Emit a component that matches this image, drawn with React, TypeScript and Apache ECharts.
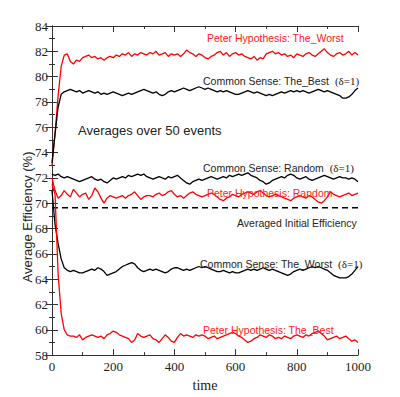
import React, { useEffect, useRef } from "react";
import * as echarts from "echarts";

// sampling grid of the time axis (every 10 time units, 0..1000)
const TIME_STEP = 10;

const peterWorst = [
  73.0, 75.5, 78.5, 80.8, 81.7, 81.8, 81.2, 81.0, 81.3, 81.2,
  81.5, 81.6, 81.7, 81.5, 81.6, 81.4, 81.5, 81.3, 81.5, 81.6,
  81.5, 81.7, 81.6, 81.8, 81.7, 81.9, 81.6, 81.8, 81.7, 81.9,
  81.8, 81.7, 81.9, 81.8, 82.0, 81.7, 81.8, 81.9, 81.6, 81.8,
  81.7, 81.8, 81.6, 81.8, 82.1, 81.9, 81.8, 81.6, 81.8, 81.7,
  81.5, 81.4, 81.6, 81.7, 81.9, 82.0, 81.7, 81.9, 81.6, 81.8,
  81.9, 81.7, 81.8, 81.6, 81.5, 81.4, 81.6, 81.3, 81.5, 81.4,
  81.8, 81.9, 82.0, 81.8, 81.9, 81.7, 81.8, 81.6, 81.7, 81.5,
  81.8, 81.7, 81.6, 81.8, 81.9, 81.7, 81.6, 81.8, 82.0, 82.2,
  81.9, 81.7, 81.6, 81.8, 81.9, 81.7, 81.8, 82.0, 81.7, 81.9,
  81.7,
];

const commonBest = [
  73.2, 75.5, 77.6, 78.6, 78.8, 78.9, 79.0, 78.9, 78.8, 78.9,
  78.7, 78.8, 78.9, 78.8, 78.7, 78.8, 78.6, 78.7, 78.6, 78.7,
  78.8, 78.7, 78.6, 78.5, 78.6, 78.7, 78.6, 78.7, 78.8, 78.9,
  79.0, 78.9, 78.8, 78.7, 78.8, 78.6, 78.5, 78.6, 78.8, 78.9,
  78.8, 78.9, 79.0, 79.1, 79.0, 78.9, 79.0, 79.1, 79.2, 79.1,
  79.0, 79.1, 79.0, 78.9, 78.8, 78.9, 78.8, 78.9, 78.8, 78.7,
  78.6, 78.6, 78.7, 78.8, 78.9, 78.8, 78.7, 78.8, 78.7, 78.6,
  78.5, 78.6, 78.5, 78.6, 78.7, 78.8, 78.7, 78.8, 78.9, 78.8,
  78.9, 78.8, 78.9, 78.8, 78.7, 78.8, 78.9, 79.0, 78.9, 78.8,
  78.9, 78.8, 78.7, 78.6, 78.5, 78.3, 78.3, 78.4, 78.6, 78.9,
  79.1,
];

const commonRandom = [
  72.3, 72.2, 72.3, 72.1, 72.0, 72.1, 72.0, 71.9, 71.8, 71.7,
  71.8, 71.9, 72.0, 72.1, 71.9, 71.8, 71.9, 71.7, 71.6, 71.8,
  72.0, 71.9, 72.0, 72.1, 72.0, 72.2, 72.1, 72.2, 72.3, 72.2,
  72.3, 72.1, 72.0, 71.9, 72.0, 72.1, 72.0, 71.9, 72.1, 72.0,
  72.1, 72.2, 72.0, 71.8, 71.6, 71.5, 71.7, 71.8, 71.9, 71.8,
  71.9, 72.0, 72.1, 72.0, 71.9, 72.0, 72.1, 72.0, 72.2, 72.1,
  72.2, 72.3, 72.2, 72.3, 72.4, 72.2, 72.1, 72.0, 71.8, 71.7,
  71.5, 71.6, 71.8, 71.9, 72.0, 72.1, 72.0, 72.2, 72.3, 72.2,
  72.0, 71.9, 72.0, 72.1, 71.9, 71.8, 71.9, 72.0, 72.1, 72.2,
  72.1, 72.0, 71.9, 72.0, 72.1, 72.0, 72.0, 71.9, 72.0, 71.9,
  71.7,
];

const peterRandom = [
  72.0, 71.0, 70.4, 70.6, 71.0, 70.7, 70.5, 71.1, 70.8, 70.5,
  70.7, 70.8, 70.3, 70.6, 71.2, 70.9, 70.4, 70.0, 70.4, 70.6,
  70.5, 70.4, 70.5, 70.6, 70.4, 70.6, 70.7, 70.9, 70.6, 70.3,
  70.5, 70.6, 70.6, 70.5, 70.7, 70.8, 70.6, 70.7, 70.9, 71.0,
  70.7, 70.5, 70.6, 70.4, 70.6, 70.8, 70.9, 70.7, 70.6, 70.5,
  70.6, 70.7, 70.8, 70.7, 70.5, 70.3, 70.2, 70.4, 70.5, 70.7,
  70.6, 70.5, 70.7, 70.8, 70.9, 70.8, 70.7, 70.9, 71.0, 70.8,
  70.6, 70.5, 70.6, 70.7, 70.6, 70.5, 70.4, 70.3, 70.2, 70.4,
  70.5, 70.6, 70.5, 70.4, 70.6, 70.5, 70.3, 70.1, 70.0, 70.2,
  70.5, 70.9, 70.7, 70.6, 70.5, 70.6, 70.7, 70.8, 70.6, 70.7,
  70.8,
];

const commonWorst = [
  71.0, 68.3, 66.8, 65.6, 64.9, 64.7, 64.6, 64.7, 64.6, 64.5,
  64.5, 64.6, 64.7, 64.8, 64.7, 64.9, 64.8, 64.6, 64.3, 64.4,
  64.5, 64.6, 64.8, 65.0, 65.1, 65.2, 65.3, 65.2, 64.9, 64.7,
  64.6, 64.7, 64.8, 64.7, 64.8, 64.7, 64.6, 64.5, 64.6, 64.8,
  64.9, 64.9, 64.8, 64.7, 64.8, 64.7, 64.8, 64.9, 65.0, 64.9,
  65.0, 64.9, 64.8, 64.7, 64.6, 64.6, 64.7, 64.6, 64.5, 64.6,
  64.5, 64.5, 64.6, 64.7, 64.8, 64.7, 64.8, 64.7, 64.8, 64.9,
  64.8, 64.7, 64.8, 64.7, 64.6, 64.5, 64.4, 64.3, 64.4, 64.6,
  64.7, 64.8, 64.7, 64.8, 64.9, 65.0, 64.9, 65.0, 64.9, 64.8,
  64.7, 64.5, 64.3, 64.2, 64.1, 64.1, 64.1, 64.2, 64.4, 64.7,
  65.0,
];

const peterBest = [
  71.5, 70.7, 64.4, 61.3, 60.0, 59.6, 59.5, 59.5, 59.4, 59.6,
  59.2, 59.4, 59.5, 59.6, 59.5, 59.4, 59.5, 59.3, 59.6, 59.7,
  59.9, 59.8, 59.6, 59.5, 59.4, 59.3, 59.0, 59.2, 59.7, 59.5,
  59.4, 59.5, 59.6, 59.3, 59.2, 59.0, 59.3, 59.6, 59.4, 59.1,
  59.0, 59.4, 59.7, 59.5, 59.6, 59.5, 59.4, 59.6, 59.5, 59.6,
  59.5, 59.3, 59.4, 59.5, 59.3, 59.4, 59.5, 59.6, 59.7, 59.8,
  59.7, 59.5, 59.4, 59.2, 59.0, 59.1, 59.3, 59.4, 59.6, 59.5,
  59.4, 59.6, 59.5, 59.3, 59.4, 59.3, 59.5, 59.4, 59.3, 59.5,
  59.6, 59.5, 59.4, 59.6, 59.5, 59.7, 59.8, 59.9, 59.7, 59.5,
  59.2, 59.3, 59.4, 59.5, 59.3, 59.4, 59.5, 59.3, 59.1, 59.2,
  59.0,
];

const averagedInitial = 69.65;

const yTicks = [58, 84];
const xTicks = [0, 1000];

const labelTexts = {
  peterWorst: "Peter Hypothesis: The_Worst",
  commonBest: "Common Sense: The_Best",
  avgNote: "Averages over 50 events",
  commonRandom: "Common Sense: Random",
  peterRandom: "Peter Hypothesis: Random",
  initial: "Averaged Initial Efficiency",
  commonWorst: "Common Sense: The_Worst",
  peterBest: "Peter Hypothesis: The_Best",
  delta: "(δ=1)",
};

function pairs(values: number[]) {
  return values.map((v, i) => [i * TIME_STEP, v]);
}

const SANS = "'Liberation Sans', Arial, sans-serif";
const SERIF = "'Liberation Serif', 'Times New Roman', serif";

export default function App() {
  const ref = useRef<HTMLDivElement>(null);

  useEffect(() => {
    if (!ref.current) return;
    const chart = echarts.init(ref.current, undefined, { renderer: "svg" });

    const axisLine = { show: true, lineStyle: { color: "#333", width: 1 } };
    const axisTick = { show: true, inside: true, length: 6, lineStyle: { color: "#333" } };
    const minorTick = { show: true, splitNumber: 2, length: 3, lineStyle: { color: "#333" } };

    const line = (name: string, data: number[], color: string, width = 1.3) => ({
      name,
      type: "line",
      data: pairs(data),
      showSymbol: false,
      symbol: "none",
      lineStyle: { color, width },
      itemStyle: { color },
      z: 3,
    });

    const txt = (
      text: string,
      x: number,
      y: number,
      color: string,
      fontSize = 10.5,
      withDelta = false
    ) => ({
      type: "text",
      x,
      y,
      z: 10,
      style: {
        text: withDelta ? `${text}  {d|${labelTexts.delta}}` : text,
        fill: color,
        font: `${fontSize}px ${SANS}`,
        verticalAlign: "middle",
        rich: {
          d: { fontFamily: SERIF, fontSize: 11, fill: color, color },
        },
      },
    });

    chart.setOption({
      animation: false,
      backgroundColor: "#fff",
      grid: { left: 52, right: 42, top: 26, bottom: 30, containLabel: false },
      xAxis: [
        {
          type: "value",
          min: xTicks[0],
          max: xTicks[1],
          interval: 200,
          name: "time",
          nameLocation: "middle",
          nameGap: 22,
          nameTextStyle: { fontFamily: SERIF, fontSize: 14, color: "#222" },
          axisLine,
          axisTick,
          minorTick,
          splitLine: { show: false },
          axisLabel: {
            fontFamily: SERIF,
            fontSize: 13,
            color: "#222",
            margin: 5,
            formatter: (v: number) => String(v),
          },
        },
        {
          type: "value",
          position: "top",
          min: xTicks[0],
          max: xTicks[1],
          interval: 200,
          axisLine,
          axisTick,
          minorTick,
          splitLine: { show: false },
          axisLabel: { show: false },
        },
      ],
      yAxis: [
        {
          type: "value",
          min: yTicks[0],
          max: yTicks[1],
          interval: 2,
          axisLine,
          axisTick,
          minorTick,
          splitLine: { show: false },
          axisLabel: { fontFamily: SERIF, fontSize: 13, color: "#222", margin: 4 },
        },
        {
          type: "value",
          position: "right",
          min: yTicks[0],
          max: yTicks[1],
          interval: 2,
          axisLine,
          axisTick,
          minorTick,
          splitLine: { show: false },
          axisLabel: { show: false },
        },
      ],
      series: [
        line("Peter Hypothesis: The_Worst", peterWorst, "#ff0000"),
        line("Common Sense: The_Best", commonBest, "#000000"),
        line("Common Sense: Random", commonRandom, "#000000"),
        line("Peter Hypothesis: Random", peterRandom, "#ff0000"),
        line("Common Sense: The_Worst", commonWorst, "#000000"),
        line("Peter Hypothesis: The_Best", peterBest, "#ff0000"),
        {
          name: "Averaged Initial Efficiency",
          type: "line",
          data: [
            [xTicks[0], averagedInitial],
            [xTicks[1], averagedInitial],
          ],
          showSymbol: false,
          symbol: "none",
          lineStyle: { color: "#000", width: 1.5, type: [6, 4] },
          z: 2,
        },
      ],
      graphic: [
        {
          type: "text",
          x: 27,
          y: 217,
          rotation: Math.PI / 2,
          z: 10,
          style: {
            text: "Average Efficiency (%)",
            fill: "#222",
            font: `13px ${SANS}`,
            align: "center",
            verticalAlign: "middle",
          },
        },
        txt(labelTexts.peterWorst, 207, 38, "#ff2020"),
        txt(labelTexts.commonBest, 203, 81, "#222", 10.5, true),
        txt(labelTexts.avgNote, 78, 130, "#222", 13),
        txt(labelTexts.commonRandom, 203, 168, "#222", 10.5, true),
        txt(labelTexts.peterRandom, 207, 193, "#ff2020"),
        txt(labelTexts.initial, 237, 223, "#222"),
        txt(labelTexts.commonWorst, 200, 264, "#222", 10.5, true),
        txt(labelTexts.peterBest, 203, 330, "#ff2020"),
      ],
    });

    return () => chart.dispose();
  }, []);

  return (
    <div
      ref={ref}
      style={{ position: "fixed", left: 0, top: 0, width: 400, height: 397, background: "#fff" }}
    />
  );
}
